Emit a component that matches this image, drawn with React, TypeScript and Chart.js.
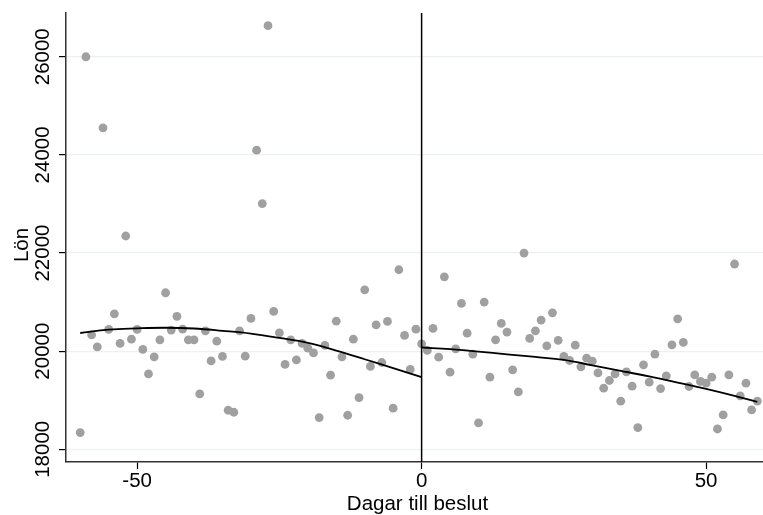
import React, { useEffect, useRef } from 'react';
import { Chart, registerables } from 'chart.js';

Chart.register(...registerables);

// Days before decision (negative) and their mean salary
const daysBefore = [
  -60, -59, -58, -57, -56, -55, -54, -53, -52, -51,
  -50, -49, -48, -47, -46, -45, -44, -43, -42, -41,
  -40, -39, -38, -37, -36, -35, -34, -33, -32, -31,
  -30, -29, -28, -27, -26, -25, -24, -23, -22, -21,
  -20, -19, -18, -17, -16, -15, -14, -13, -12, -11,
  -10, -9, -8, -7, -6, -5, -4, -3, -2, -1,
];
const salaryBefore = [
  18341, 26000, 20333, 20088, 24551, 20443, 20761, 20157, 22347, 20245,
  20443, 20035, 19537, 19884, 20231, 21190, 20429, 20708, 20449, 20231,
  20231, 19129, 20414, 19802, 20204, 19892, 18796, 18755, 20414, 19898,
  20667, 24096, 23006, 26633, 20810, 20373, 19729, 20231, 19822, 20157,
  20061, 19965, 18647, 20116, 19510, 20612, 19884, 18694, 20245, 19055,
  21251, 19688, 20537, 19769, 20606, 18837, 21659, 20320, 19627, 20449,
];

// Days from decision (0 and positive) and their mean salary
const daysAfter = [
  0, 1, 2, 3, 4, 5, 6, 7, 8, 9,
  10, 11, 12, 13, 14, 15, 16, 17, 18, 19,
  20, 21, 22, 23, 24, 25, 26, 27, 28, 29,
  30, 31, 32, 33, 34, 35, 36, 37, 38, 39,
  40, 41, 42, 43, 44, 45, 46, 47, 48, 49,
  50, 51, 52, 53, 54, 55, 56, 57, 58, 59,
];
const salaryAfter = [
  20149, 20014, 20463, 19878, 21516, 19571, 20047, 20973, 20367, 19939,
  18537, 21000, 19469, 20231, 20565, 20388, 19619, 19170, 22000, 20259,
  20414, 20633, 20108, 20782, 20218, 19892, 19810, 20122, 19680, 19857,
  19796, 19557, 19245, 19402, 19537, 18980, 19578, 19286, 18443, 19721,
  19367, 19939, 19238, 19496, 20129, 20659, 20178, 19280, 19516, 19382,
  19347, 19469, 18414, 18700, 19516, 21776, 19088, 19347, 18802, 18980,
];

// Fitted curves
const fitBeforeDays = [-60, -55, -50, -45, -40, -35, -30, -25, -20, -15, -10, -5, 0];
const fitBeforeValues = [20370, 20440, 20465, 20477, 20462, 20415, 20358, 20270, 20168, 20010, 19835, 19655, 19470];
const fitAfterDays = [0, 5, 10, 15, 20, 25, 30, 35, 40, 45, 50, 55, 59];
const fitAfterValues = [20075, 20040, 19992, 19935, 19882, 19822, 19712, 19600, 19485, 19360, 19232, 19090, 18965];

// Axes
const xTicks = [-50, 0, 50];
const yTicks = [18000, 20000, 22000, 24000, 26000];
const xMin = -62.5;
const xMax = 60;
const yMin = 17741;
const yMax = 26892;
const cutoffDay = 0;

const xTitle = 'Dagar till beslut';
const yTitle = 'Lön';

const FONT = '"Liberation Sans", Arial, sans-serif';
const FONT_SIZE = 20.5;

const textPlugin = {
  id: 'stataText',
  afterDraw(chart: any) {
    const ctx = chart.ctx as CanvasRenderingContext2D;
    const xs = chart.scales.x;
    const ys = chart.scales.y;
    ctx.save();
    ctx.fillStyle = '#000';
    ctx.font = `${FONT_SIZE}px ${FONT}`;
    // x tick labels
    ctx.textAlign = 'center';
    ctx.textBaseline = 'alphabetic';
    xTicks.forEach((v) => {
      ctx.fillText(String(v), xs.getPixelForValue(v), 487);
    });
    // x title
    ctx.fillText(xTitle, (chart.chartArea.left + chart.chartArea.right) / 2 + 3, 510);
    // y tick labels rotated
    yTicks.forEach((v) => {
      const py = ys.getPixelForValue(v);
      ctx.save();
      ctx.translate(49, py);
      ctx.rotate(-Math.PI / 2);
      ctx.textAlign = 'center';
      ctx.textBaseline = 'alphabetic';
      ctx.fillText(String(v), 0, 0);
      ctx.restore();
    });
    // y title
    ctx.save();
    ctx.translate(28, 245);
    ctx.rotate(-Math.PI / 2);
    ctx.textAlign = 'center';
    ctx.textBaseline = 'alphabetic';
    ctx.fillText(yTitle, 0, 0);
    ctx.restore();
    ctx.restore();
  },
};

export default function App() {
  const ref = useRef<HTMLCanvasElement | null>(null);

  useEffect(() => {
    if (!ref.current) return;
    const grey = 'rgb(160,160,160)';
    const chart = new Chart(ref.current, {
      type: 'scatter',
      data: {
        datasets: [
          {
            label: 'cutoff',
            data: [
              { x: cutoffDay, y: yMin },
              { x: cutoffDay, y: yMax },
            ],
            showLine: true,
            borderColor: '#000',
            borderWidth: 1.5,
            pointRadius: 0,
            order: 0,
          },
          {
            label: 'fitBefore',
            data: fitBeforeDays.map((d, i) => ({ x: d, y: fitBeforeValues[i] })),
            showLine: true,
            borderColor: '#000',
            borderWidth: 1.8,
            pointRadius: 0,
            tension: 0.4,
            order: 1,
          },
          {
            label: 'fitAfter',
            data: fitAfterDays.map((d, i) => ({ x: d, y: fitAfterValues[i] })),
            showLine: true,
            borderColor: '#000',
            borderWidth: 1.8,
            pointRadius: 0,
            tension: 0.4,
            order: 1,
          },
          {
            label: 'before',
            data: daysBefore.map((d, i) => ({ x: d, y: salaryBefore[i] })),
            backgroundColor: grey,
            borderWidth: 0,
            pointRadius: 4.4,
            order: 2,
          },
          {
            label: 'after',
            data: daysAfter.map((d, i) => ({ x: d, y: salaryAfter[i] })),
            backgroundColor: grey,
            borderWidth: 0,
            pointRadius: 4.4,
            order: 2,
          },
        ],
      },
      options: {
        animation: false,
        responsive: false,
        maintainAspectRatio: false,
        devicePixelRatio: 1,
        layout: { autoPadding: false, padding: { top: 13, left: 0, right: 0, bottom: 0 } },
        plugins: {
          legend: { display: false },
          tooltip: { enabled: false },
          title: { display: false },
        },
        scales: {
          x: {
            type: 'linear',
            min: xMin,
            max: xMax,
            afterBuildTicks: (scale: any) => {
              scale.ticks = xTicks.map((v) => ({ value: v }));
            },
            afterFit: (scale: any) => {
              scale.height = 53;
              scale.paddingLeft = 0;
              scale.paddingRight = 0;
            },
            ticks: { display: false },
            grid: {
              display: true,
              drawOnChartArea: false,
              drawTicks: true,
              tickLength: 7,
              tickColor: '#000',
              tickWidth: 1.2,
            },
            border: { display: true, color: '#333', width: 1.5 },
          },
          y: {
            type: 'linear',
            min: yMin,
            max: yMax,
            afterBuildTicks: (scale: any) => {
              scale.ticks = yTicks.map((v) => ({ value: v }));
            },
            afterFit: (scale: any) => {
              scale.width = 66;
              scale.paddingTop = 0;
              scale.paddingBottom = 0;
            },
            ticks: { display: false },
            grid: {
              display: true,
              drawOnChartArea: true,
              color: 'rgb(234,242,243)',
              lineWidth: 1.2,
              drawTicks: true,
              tickLength: 7,
              tickColor: '#000',
              tickWidth: 1.2,
            },
            border: { display: true, color: '#333', width: 1.5 },
          },
        },
      },
      plugins: [textPlugin],
    });
    return () => chart.destroy();
  }, []);

  return (
    <div style={{ position: 'fixed', left: 0, top: 0, width: 763, height: 515, background: '#fff' }}>
      <canvas ref={ref} width={763} height={515} style={{ width: 763, height: 515, display: 'block' }} />
    </div>
  );
}
